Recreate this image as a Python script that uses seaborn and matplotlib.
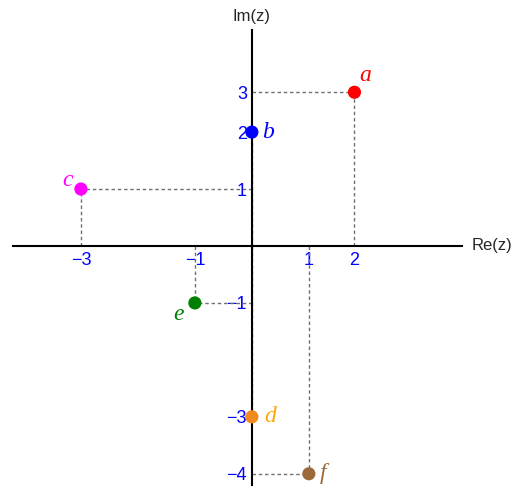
import matplotlib
matplotlib.use('Agg')
import matplotlib.pyplot as plt
import seaborn as sns
import pandas as pd

# points of the complex plane
names = ['a', 'b', 'c', 'd', 'e', 'f']
re_vals = [1.8, 0, -3, 0, -1, 1]
im_vals = [2.7, 2, 1, -3, -1, -4]
colors = ['#ff0000', '#0000ff', '#ff00ff', '#f08a1c', '#008000', '#9c6a3a']
label_colors = ['#ff0000', '#0000ff', '#ff00ff', '#ffa500', '#008000', '#9c6a3a']

# ticks (positions and their labels)
xticks = [-3, -1, 1, 1.8]
xticklabels = ['\u22123', '\u22121', '1', '2']
yticks = [-4, -3, -1, 1, 2, 2.7]
yticklabels = ['\u22124', '\u22123', '\u22121', '1', '2', '3']

# label offsets in points
offsets = {'a': (8, 12), 'b': (12, 0), 'c': (-10, 6), 'd': (13, 0), 'e': (-12, -8), 'f': (10, 0)}

df = pd.DataFrame({'name': names, 're': re_vals, 'im': im_vals})

sns.set_style('white')
plt.rcParams['font.family'] = ['Liberation Sans', 'DejaVu Sans']

fig = plt.figure(figsize=(5.18, 4.88), dpi=100)
ax = fig.add_axes([0, 0, 1, 1])
ax.set_xlim(-4.42, 4.67)
ax.set_ylim(-4.25, 4.32)

# dashed projection lines
for x, y in zip(re_vals, im_vals):
    if x != 0:
        ax.plot([0, x], [y, y], ls=(0, (2.5, 2)), color='#707070', lw=1, zorder=1)
    if y != 0:
        ax.plot([x, x], [0, y], ls=(0, (2.5, 2)), color='#707070', lw=1, zorder=1)

sns.scatterplot(data=df, x='re', y='im', hue='name', palette=colors, s=90,
                edgecolor='none', legend=False, ax=ax, zorder=5)

for n, x, y, c in zip(names, re_vals, im_vals, label_colors):
    dx, dy = offsets[n]
    ax.annotate(n, (x, y), xytext=(dx, dy), textcoords='offset points',
                ha='center', va='center', fontsize=17, color=c,
                family='Liberation Serif', style='italic', zorder=6)

# axes through the origin
for s in ['top', 'right']:
    ax.spines[s].set_visible(False)
ax.spines['left'].set_position(('data', 0))
ax.spines['bottom'].set_position(('data', 0))
ax.spines['left'].set_bounds(-4.2, 3.79)
ax.spines['bottom'].set_bounds(-4.2, 3.68)
for s in ['left', 'bottom']:
    ax.spines[s].set_linewidth(1.5)
    ax.spines[s].set_color('black')
    ax.spines[s].set_zorder(3)

ax.set_xticks(xticks)
ax.set_xticklabels(xticklabels)
ax.set_yticks(yticks)
ax.set_yticklabels(yticklabels)
ax.tick_params(axis='both', colors='#0000ff', labelcolor='#0000ff', labelsize=13,
               direction='inout', length=5, width=1)
ax.tick_params(axis='x', pad=2)
ax.tick_params(axis='y', pad=1)
ax.set_xlabel('')
ax.set_ylabel('')

ax.text(3.85, 0, 'Re(z)', ha='left', va='center', fontsize=12)
ax.text(0, 4.03, 'Im(z)', ha='center', va='center', fontsize=12)

fig.savefig('out.png', dpi=100)
